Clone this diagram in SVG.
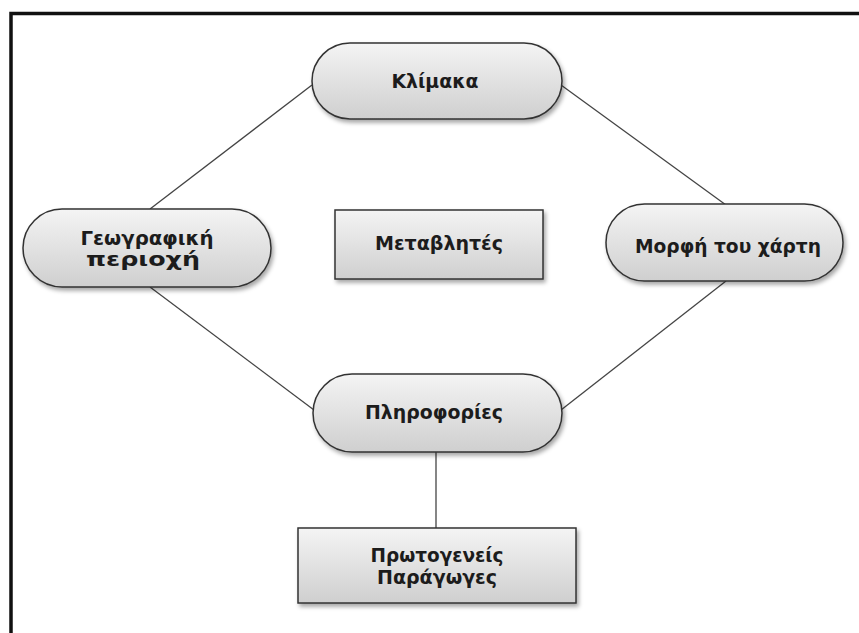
<svg xmlns="http://www.w3.org/2000/svg" width="859" height="633" viewBox="0 0 859 633">
<defs>
<linearGradient id="g" x1="0" y1="0" x2="0" y2="1">
<stop offset="0" stop-color="#f4f4f4"/>
<stop offset="1" stop-color="#cfcfcf"/>
</linearGradient>
<filter id="sh" x="-10%" y="-10%" width="130%" height="140%">
<feDropShadow dx="2" dy="3" stdDeviation="2" flood-color="#000" flood-opacity="0.35"/>
</filter>
</defs>
<style>
.n{fill:url(#g);stroke:#333;stroke-width:1.5;filter:url(#sh)}
.t{font-family:"DejaVu Sans",Verdana,sans-serif;font-weight:bold;font-size:19px;fill:#1c1c1c;text-anchor:middle}
.c{stroke:#444;stroke-width:1.3;fill:none}
</style>
<rect x="0" y="0" width="859" height="633" fill="#fff"/>
<path d="M11 640 V13.5 H870" fill="none" stroke="#111" stroke-width="3.5"/>
<g id="connectors">
<line class="c" x1="312" y1="85" x2="150" y2="209"/>
<line class="c" x1="561" y1="85" x2="726" y2="205"/>
<line class="c" x1="150" y1="287" x2="314" y2="410"/>
<line class="c" x1="726" y1="281" x2="561" y2="410"/>
<line class="c" x1="436" y1="452" x2="436" y2="528"/>
</g>
<g id="klimaka">
<rect class="n" x="312" y="43" width="250" height="76" rx="38"/>
<text class="t" x="435" y="88" textLength="87" lengthAdjust="spacingAndGlyphs">Κλίμακα</text>
</g>
<g id="geografiki">
<rect class="n" x="23" y="209" width="248" height="78" rx="39"/>
<text class="t" x="147" y="245" textLength="133" lengthAdjust="spacingAndGlyphs">Γεωγραφική</text>
<text class="t" x="143" y="266" textLength="114" lengthAdjust="spacingAndGlyphs">περιοχή</text>
</g>
<g id="metavlites">
<rect class="n" x="335" y="210" width="208" height="69"/>
<text class="t" x="439" y="250" textLength="128" lengthAdjust="spacingAndGlyphs">Μεταβλητές</text>
</g>
<g id="morfi">
<rect class="n" x="606" y="204" width="237" height="77" rx="38.5"/>
<text class="t" x="728" y="253" textLength="186" lengthAdjust="spacingAndGlyphs">Μορφή του χάρτη</text>
</g>
<g id="plirofories">
<rect class="n" x="313" y="374" width="249" height="78" rx="39"/>
<text class="t" x="434" y="419" textLength="138" lengthAdjust="spacingAndGlyphs">Πληροφορίες</text>
</g>
<g id="protogeneis">
<rect class="n" x="298" y="528" width="278" height="75"/>
<text class="t" x="437" y="562" textLength="133" lengthAdjust="spacingAndGlyphs">Πρωτογενείς</text>
<text class="t" x="437" y="584" textLength="120" lengthAdjust="spacingAndGlyphs">Παράγωγες</text>
</g>
</svg>
